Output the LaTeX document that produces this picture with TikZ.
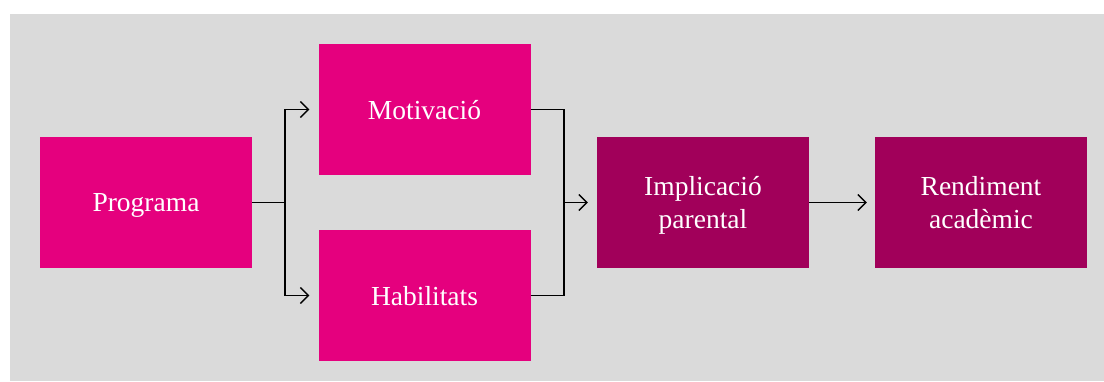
\documentclass[tikz,border=0pt]{standalone}
\usepackage{fontspec}
\setmainfont{Liberation Serif}
\usetikzlibrary{arrows.meta}
\definecolor{bg}{HTML}{DADADA}
\definecolor{pinkbox}{HTML}{E5007E}
\definecolor{darkbox}{HTML}{A1005A}
\tikzset{
  box/.style={draw=none, minimum width=212pt, minimum height=131pt, inner sep=0pt, text=white, align=center, text depth=-5pt, font=\fontsize{27.5}{33.5}\selectfont},
  pbox/.style={box, fill=pinkbox},
  dbox/.style={box, fill=darkbox},
  conn/.style={draw=black, line width=1.3pt},
  arr/.style={conn, -{Straight Barb[length=8pt, width=16pt, line width=1.3pt]}}
}
\begin{document}
\begin{tikzpicture}[x=1pt, y=-1pt]
\useasboundingbox (0,0) rectangle (1104,381);
\fill[bg] (10,14) rectangle (1104,381);
\node[pbox] (prog) at (146,202.5) {Programa};
\node[pbox] (mot) at (424.5,109.5) {Motivació};
\node[pbox] (hab) at (424.5,295.5) {Habilitats};
\node[dbox] (impl) at (703,202.5) {Implicació\\parental};
\node[dbox] (rend) at (981,202.5) {Rendiment\\acadèmic};
\coordinate (s1) at (285,202.5);
\coordinate (s2) at (564,202.5);
\draw[conn] (prog.east) -- (s1);
\draw[arr] (s1) |- ([xshift=-9pt]mot.west);
\draw[arr] (s1) |- ([xshift=-9pt]hab.west);
\draw[conn] (mot.east) -| (s2);
\draw[conn] (hab.east) -| (s2);
\draw[arr] (s2) -- ([xshift=-9pt]impl.west);
\draw[arr] (impl.east) -- ([xshift=-8pt]rend.west);
\end{tikzpicture}
\end{document}
